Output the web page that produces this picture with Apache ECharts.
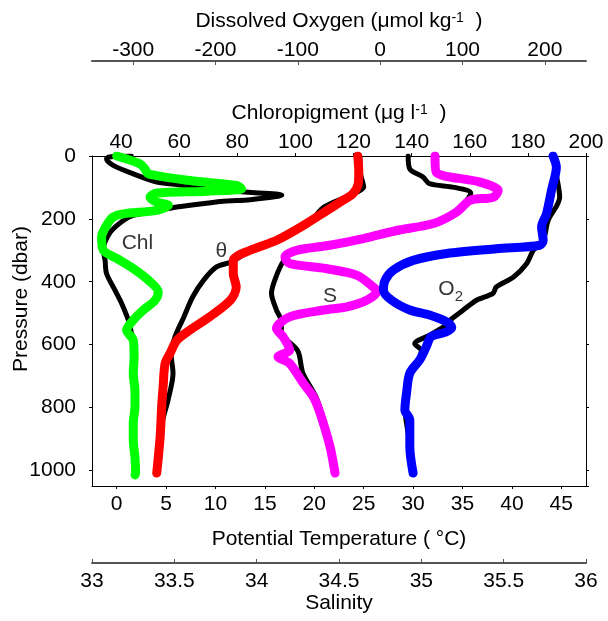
<!DOCTYPE html>
<html>
<head>
<meta charset="utf-8">
<script src="https://cdn.jsdelivr.net/npm/echarts@6/dist/echarts.min.js"></script>
<style>
  html, body { margin: 0; padding: 0; background: #fff; }
  #chart { width: 608px; height: 621px; }
</style>
</head>
<body>
<div id="chart"></div>
<script>
// tick values
const tempTicks = [0, 5, 10, 15, 20, 25, 30, 35, 40, 45];
const chlTicks = [40, 60, 80, 100, 120, 140, 160, 180, 200];
const oxyTicks = [-300, -200, -100, 0, 100, 200];

// chloropigment profiles (green = main, black = comparison)
const chlP = [0, 25, 41, 57, 78, 94, 104, 112, 118, 131, 147, 157, 173, 184, 194, 221, 258, 300, 326, 358, 400, 432, 459, 490, 522, 554, 586, 640, 691, 750, 797, 850, 903, 960, 1009, 1015];
const chlV = [38.5, 46.5, 48.2, 49.4, 63.7, 79.8, 81.5, 69.5, 52.3, 50, 52.3, 56.3, 52.3, 40.8, 37.3, 35, 33.3, 33.9, 38.5, 44.2, 50, 52.8, 51.7, 47.7, 44.2, 41.9, 44.2, 44.5, 44.2, 44.8, 44.8, 44.2, 44.2, 44.8, 45, 44.8];
const chlBlackP = [0, 3, 9, 30, 57, 83, 92, 110, 125, 139, 144, 157, 168, 189, 205, 240, 280, 300, 332, 374, 427, 469, 522, 560, 600, 700, 800, 900, 1000];
const chlBlackV = [43.5, 36, 35, 37.3, 44.2, 52.3, 60.3, 75.2, 95.3, 84.4, 75.2, 63.7, 55.7, 44.2, 40.8, 36.5, 34.2, 33.9, 34.5, 35, 37.9, 40.2, 42.5, 43.5, 44.6, 44.6, 44.5, 44.4, 44.6];

// potential temperature
const thetaP = [0, 50, 88, 120, 141, 173, 215, 268, 300, 332, 374, 417, 459, 512, 554, 586, 628, 660, 734, 797, 893, 1009];
const thetaV = [24.4, 24.5, 24.45, 23.9, 22.9, 21.3, 19.2, 16.2, 13.5, 11.8, 11.8, 12.1, 11.5, 9.4, 7.4, 6.1, 5.4, 4.9, 4.7, 4.55, 4.4, 4.05];
const thetaBlackP = [0, 60, 99, 120, 162, 215, 268, 300, 337, 353, 395, 448, 512, 575, 628, 691, 776, 850, 950, 1000];
const thetaBlackV = [24.6, 24.7, 25.0, 24.0, 21.0, 19.4, 16.4, 13.6, 11.6, 10.1, 8.8, 7.7, 6.8, 5.9, 5.5, 5.7, 5.2, 4.6, 4.4, 4.2];

// salinity
const salP = [0, 51, 83, 110, 131, 141, 178, 215, 237, 263, 284, 300, 321, 342, 358, 379, 417, 432, 459, 480, 490, 512, 549, 575, 617, 639, 660, 723, 766, 818, 924, 1009];
const salV = [35.083, 35.09, 35.356, 35.467, 35.437, 35.296, 35.215, 35.073, 34.85, 34.648, 34.445, 34.243, 34.172, 34.2, 34.42, 34.607, 34.708, 34.729, 34.668, 34.547, 34.41, 34.2, 34.12, 34.16, 34.2, 34.13, 34.2, 34.283, 34.344, 34.385, 34.445, 34.476];
const salBlackP = [0, 41, 67, 88, 100, 118, 165, 215, 263, 300, 337, 395, 437, 490, 527, 560, 620, 690, 766, 830, 924, 1000];
const salBlackV = [34.92, 34.93, 35.01, 35.05, 35.2, 35.3, 35.23, 35.07, 34.65, 34.24, 34.16, 34.11, 34.09, 34.12, 34.15, 34.15, 34.25, 34.28, 34.36, 34.4, 34.44, 34.47];

// dissolved oxygen
const oxyP = [0, 36, 110, 184, 226, 268, 284, 295, 310, 332, 363, 395, 427, 459, 490, 506, 528, 545, 560, 575, 607, 649, 691, 755, 808, 840, 924, 1009];
const oxyV = [210, 214, 208, 202, 196, 198, 194, 141, 81, 40, 16, 6, 4, 14, 36, 60, 81, 87, 80, 62, 56, 48, 36, 32, 30, 36, 36, 40];
const oxyBlackP = [0, 60, 131, 205, 268, 300, 342, 385, 417, 437, 459, 490, 522, 543, 570, 597, 620, 700, 800, 900, 1000];
const oxyBlackV = [210, 214, 218, 204, 198, 186, 178, 162, 141, 137, 117, 101, 85, 77, 60, 42, 50, 36, 30, 35, 40];

// in-plot labels, placed on the temperature / pressure scales
const tagText = ['Chl', 'θ', 'S', 'O{sub|2}'];
const tagT = [2.1, 10.6, 21.6, 33.8];
const tagP = [276, 302, 445, 425];

const FONT = '"Liberation Sans", Arial, sans-serif';
const FS = 21;

function pairs(vals, press) {
  return vals.map((v, i) => [v, press[i]]);
}

function profile(name, vals, press, xIdx, color, width) {
  return {
    name: name,
    type: 'line',
    xAxisIndex: xIdx,
    yAxisIndex: 0,
    data: pairs(vals, press),
    symbol: 'none',
    smooth: 0.3,
    lineStyle: { color: color, width: width, cap: 'round', join: 'round' },
    silent: true
  };
}

const supRich = {
  sup: { fontSize: 14, fontFamily: FONT, color: '#000', lineHeight: 14, padding: [0, 0, 22, 0], verticalAlign: 'top' }
};

const chart = echarts.init(document.getElementById('chart'));

const option = {
  animation: false,
  textStyle: { fontFamily: FONT },
  grid: { left: 92, right: 22, top: 156, bottom: 135, containLabel: false, outerBoundsMode: 'none' },
  xAxis: [
    {
      // 0: potential temperature, bottom
      type: 'value', position: 'bottom', min: -2.5, max: 47.5,
      axisLine: { onZero: false, lineStyle: { color: '#000', width: 1 } },
      axisTick: { customValues: tempTicks, length: 3, lineStyle: { color: '#000' } },
      axisLabel: { customValues: tempTicks, fontSize: FS, color: '#000', margin: 8, fontFamily: FONT },
      splitLine: { show: false },
      name: 'Potential Temperature ( °C)', nameLocation: 'middle', nameGap: 43, nameMoveOverlap: false,
      nameTextStyle: { fontSize: FS, color: '#000', fontFamily: FONT }
    },
    {
      // 1: chloropigment, top of box
      type: 'value', position: 'top', min: 30, max: 200,
      axisLine: { onZero: false, lineStyle: { color: '#000', width: 1 } },
      axisTick: { customValues: chlTicks, length: 3, lineStyle: { color: '#000' } },
      axisLabel: { customValues: chlTicks, fontSize: FS, color: '#000', margin: 3, fontFamily: FONT },
      splitLine: { show: false },
      name: 'Chloropigment (μg l{sup|-1}  )', nameLocation: 'middle', nameGap: 32, nameMoveOverlap: false,
      nameTextStyle: { fontSize: FS, color: '#000', fontFamily: FONT, rich: supRich }
    },
    {
      // 2: dissolved oxygen, detached top axis
      type: 'value', position: 'top', offset: 95, min: -350, max: 250,
      axisLine: { onZero: false, lineStyle: { color: '#555', width: 2 } },
      axisTick: { customValues: oxyTicks, inside: true, length: 4, lineStyle: { color: '#555' } },
      axisLabel: { customValues: oxyTicks, fontSize: FS, color: '#000', margin: 0, fontFamily: FONT },
      splitLine: { show: false },
      name: 'Dissolved Oxygen (μmol kg{sup|-1}  )', nameLocation: 'middle', nameGap: 29, nameMoveOverlap: false,
      nameTextStyle: { fontSize: FS, color: '#000', fontFamily: FONT, rich: supRich }
    },
    {
      // 3: salinity, detached bottom axis
      type: 'value', position: 'bottom', offset: 77, min: 33, max: 36, interval: 0.5,
      axisLine: { onZero: false, lineStyle: { color: '#555', width: 2 } },
      axisTick: { inside: true, length: 4, lineStyle: { color: '#555' } },
      axisLabel: { fontSize: FS, color: '#000', margin: 8, fontFamily: FONT },
      splitLine: { show: false },
      name: 'Salinity', nameLocation: 'middle', nameGap: 30, nameMoveOverlap: false,
      nameTextStyle: { fontSize: FS, color: '#000', fontFamily: FONT }
    }
  ],
  yAxis: [
    {
      type: 'value', position: 'left', inverse: true, min: 0, max: 1050, interval: 200,
      axisLine: { show: true, onZero: false, lineStyle: { color: '#000', width: 1 } },
      axisTick: { show: true, length: 3, lineStyle: { color: '#000' } },
      axisLabel: { fontSize: FS, color: '#000', margin: 16, fontFamily: FONT, formatter: v => String(v) },
      splitLine: { show: false },
      name: 'Pressure (dbar)', nameLocation: 'middle', nameGap: 60, nameRotate: 90, nameMoveOverlap: false,
      nameTextStyle: { fontSize: FS, color: '#000', fontFamily: FONT, padding: [0, 0, 0, 44] }
    },
    {
      type: 'value', position: 'right', inverse: true, min: 0, max: 1050, interval: 200,
      axisLine: { show: true, onZero: false, lineStyle: { color: '#000', width: 1 } },
      axisTick: { show: true, length: 3, lineStyle: { color: '#000' } },
      axisLabel: { show: false },
      splitLine: { show: false }
    }
  ],
  series: [
    profile('Chl ref', chlBlackV, chlBlackP, 1, '#000', 5),
    profile('θ ref', thetaBlackV, thetaBlackP, 0, '#000', 5),
    profile('S ref', salBlackV, salBlackP, 3, '#000', 5),
    profile('O2 ref', oxyBlackV, oxyBlackP, 2, '#000', 5),
    profile('Chl', chlV, chlP, 1, '#00ff00', 9),
    profile('θ', thetaV, thetaP, 0, '#ff0000', 9),
    profile('S', salV, salP, 3, '#ff00ff', 9),
    profile('O2', oxyV, oxyP, 2, '#0000ff', 9),
    {
      name: 'tags',
      type: 'scatter',
      xAxisIndex: 0,
      yAxisIndex: 0,
      symbolSize: 0,
      silent: true,
      data: tagT.map((t, i) => ({ value: [t, tagP[i]], name: tagText[i] })),
      label: {
        show: true,
        position: 'inside',
        formatter: p => p.name,
        fontSize: FS,
        color: '#000',
        fontFamily: FONT,
        rich: {
          sub: { fontSize: 15, color: '#000', fontFamily: FONT, padding: [14, 0, 0, 0], verticalAlign: 'bottom' }
        }
      }
    }
  ]
};

chart.setOption(option);
</script>
</body>
</html>
